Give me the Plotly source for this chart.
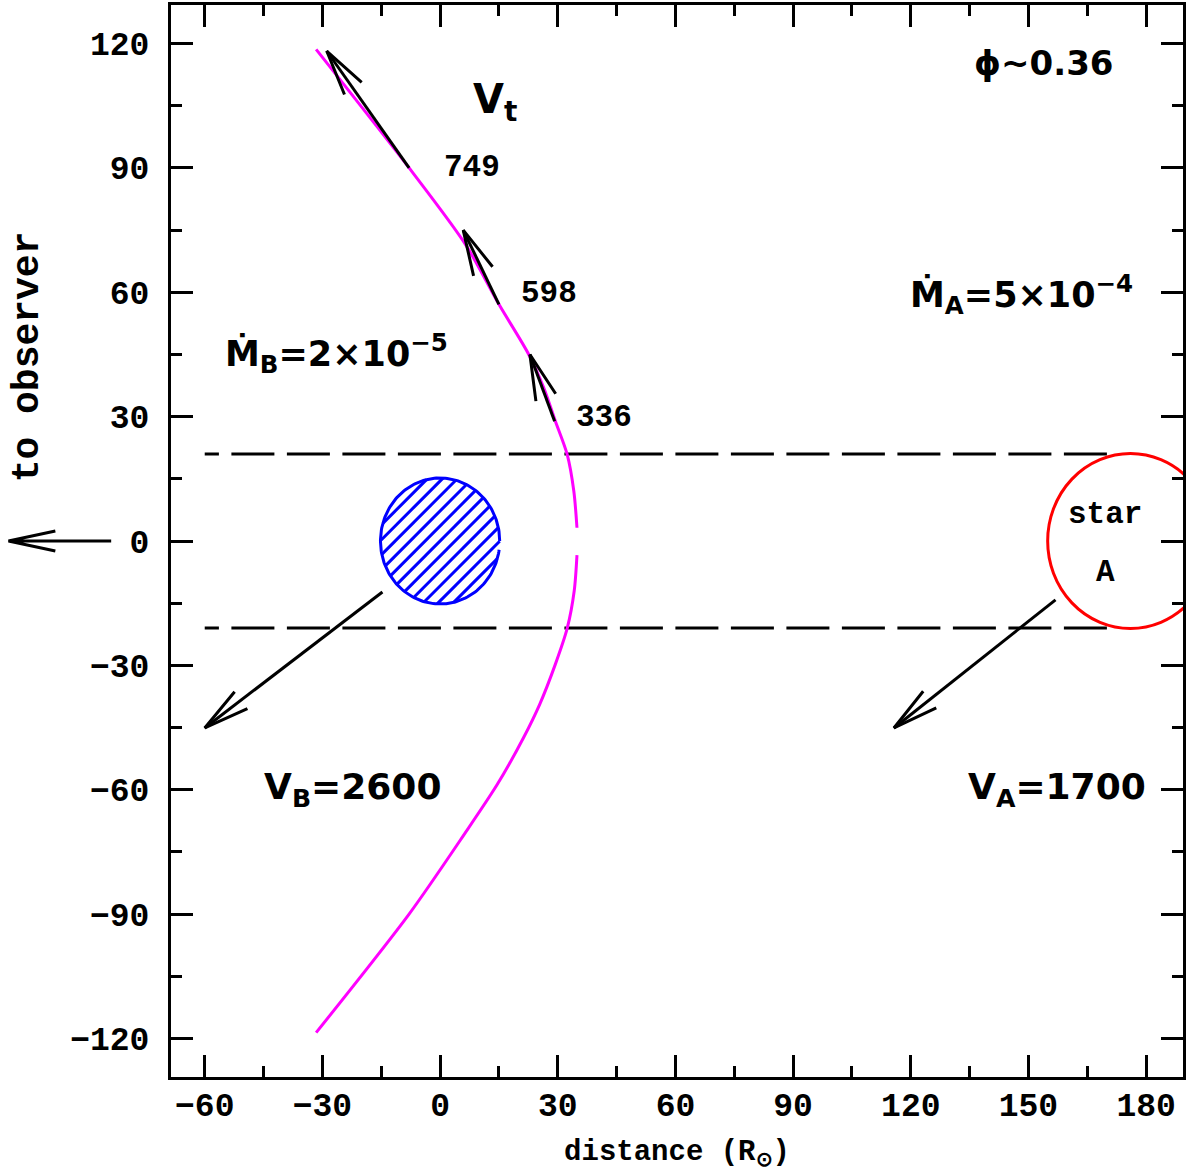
import math
import numpy as np
import plotly.graph_objects as go

# ---------------- data ----------------
x_range = [-68.6, 189.4]
y_range = [-129.3, 129.3]
x_tickvals = [-60, -30, 0, 30, 60, 90, 120, 150, 180]
x_ticktext = ["−60", "−30", "0", "30", "60", "90", "120", "150", "180"]
y_tickvals = [-120, -90, -60, -30, 0, 30, 60, 90, 120]
y_ticktext = ["−120", "−90", "−60", "−30", "0", "30", "60", "90", "120"]

# shock cone (two branches, gap near the axis)
shock_upper_x = [-31.6, -7.9, 6.5, 15.0, 22.6, 26.4, 29.4, 32.4, 34.1, 34.9]
shock_upper_y = [118.6, 90.0, 71.5, 57.1, 45.0, 37.0, 28.9, 20.9, 12.0, 3.2]
shock_lower_x = [34.9, 34.2, 32.4, 29.4, 25.4, 21.3, 14.6, 6.2, -7.9, -31.6]
shock_lower_y = [-3.4, -12.0, -21.1, -29.7, -39.4, -47.4, -58.7, -70.7, -90.0, -118.6]

# tangential velocity arrows along the shock: base -> tip
vt_base_x = [29.2, 15.0, -7.9]
vt_base_y = [28.9, 57.1, 90.0]
vt_tip_x = [22.9, 5.9, -28.9]
vt_tip_y = [45.0, 75.0, 118.2]
vt_labels = ["336", "598", "749"]
vt_label_x = [41.7, 27.7, 8.1]
vt_label_y = [29.9, 59.8, 90.0]

# wind velocity arrows: base -> tip
wind_base_x = [-14.7, 156.9]
wind_base_y = [-12.3, -14.2]
wind_tip_x = [-60.0, 115.7]
wind_tip_y = [-45.1, -45.1]

# stars
starB_x, starB_y, starB_r = 0.0, 0.0, 15.2
starA_x, starA_y, starA_r = 176.0, 0.0, 21.1

# dashed lines (drawn right to left)
dash_x = [170.0, -60.0]
dash_y_levels = [21.0, -21.0]

# ---------------- geometry helpers ----------------
W, H = 1188, 1176
ML, MR, MT, MB = 171, 2, 5, 99
PW, PH = W - ML - MR, H - MT - MB
SX = PW / (x_range[1] - x_range[0])  # px per x unit
SY = PH / (y_range[1] - y_range[0])  # px per y unit


def head(bx, by, tx, ty, L=47.0, ang=13.0):
    dxp, dyp = (tx - bx) * SX, (ty - by) * SY
    n = math.hypot(dxp, dyp)
    ux, uy = -dxp / n, -dyp / n
    pts = []
    for s in (1, -1):
        a = math.radians(s * ang)
        rx = ux * math.cos(a) - uy * math.sin(a)
        ry = ux * math.sin(a) + uy * math.cos(a)
        pts.append((tx + rx * L / SX, ty + ry * L / SY))
    return [pts[0][0], tx, pts[1][0]], [pts[0][1], ty, pts[1][1]]


fig = go.Figure()

# dashed lines
for yl in dash_y_levels:
    fig.add_trace(go.Scatter(x=dash_x, y=[yl, yl], mode="lines",
                             line=dict(color="black", width=3, dash="43px,12.5px"),
                             hoverinfo="skip", showlegend=False))

# star B: 45-degree hatching clipped to the disc (computed in pixel space)
rx, ry = starB_r * SX, starB_r * SY
hx_all, hy_all = [], []
spacing = 15.0
for k in range(-10, 11):
    c = k * spacing
    # X^2/rx^2 + (X+c)^2/ry^2 = 1
    A = 1 / rx ** 2 + 1 / ry ** 2
    B = 2 * c / ry ** 2
    C = c ** 2 / ry ** 2 - 1
    disc = B * B - 4 * A * C
    if disc <= 0:
        continue
    r = math.sqrt(disc)
    for X in ((-B - r) / (2 * A), (-B + r) / (2 * A)):
        hx_all.append(starB_x + X / SX)
        hy_all.append(starB_y + (X + c) / SY)
    hx_all.append(None)
    hy_all.append(None)
fig.add_trace(go.Scatter(x=hx_all, y=hy_all, mode="lines",
                         line=dict(width=3, color="#0000ff"),
                         hoverinfo="skip", showlegend=False))
th2 = np.linspace(0, np.radians(352), 200)
fig.add_trace(go.Scatter(x=starB_x + starB_r * np.cos(th2), y=starB_y + starB_r * np.sin(th2),
                         mode="lines", line=dict(width=3, color="#0000ff"),
                         hoverinfo="skip", showlegend=False))

# star A
fig.add_shape(type="circle", xref="x", yref="y",
              x0=starA_x - starA_r, x1=starA_x + starA_r,
              y0=starA_y - starA_r, y1=starA_y + starA_r,
              line=dict(color="#ff0000", width=3))

# shock cone
for xs, ys in ((shock_upper_x, shock_upper_y), (shock_lower_x, shock_lower_y)):
    fig.add_trace(go.Scatter(x=xs, y=ys, mode="lines",
                             line=dict(color="#ff00ff", width=3, shape="spline", smoothing=0.8),
                             hoverinfo="skip", showlegend=False))

# arrows
ax_all, ay_all = [], []
for bx, by, tx, ty in list(zip(vt_base_x, vt_base_y, vt_tip_x, vt_tip_y)) + \
        list(zip(wind_base_x, wind_base_y, wind_tip_x, wind_tip_y)):
    ax_all += [bx, tx, None]
    ay_all += [by, ty, None]
    hx, hy = head(bx, by, tx, ty)
    ax_all += hx + [None]
    ay_all += hy + [None]
fig.add_trace(go.Scatter(x=ax_all, y=ay_all, mode="lines",
                         line=dict(color="black", width=3),
                         hoverinfo="skip", showlegend=False))


# "to observer" arrow outside the frame (paper x, data y)
def px2paper(px):
    return (px - ML) / PW


obs_tip, obs_base, obs_head = px2paper(8), px2paper(111), px2paper(55)
obs_dy = 10.0 / SY
fig.add_shape(type="path", xref="paper", yref="y",
              path=f"M {obs_base},0 L {obs_tip},0 M {obs_head},{obs_dy} L {obs_tip},0 L {obs_head},{-obs_dy}",
              line=dict(color="black", width=3))

# ---------------- text ----------------
mono = dict(family="Liberation Mono", color="black", weight="bold")
sans = dict(family="DejaVu Sans", color="black", weight="bold")


def ann(x, y, text, font, size, **kw):
    fig.add_annotation(x=x, y=y, xref="x", yref="y", text=text, showarrow=False,
                       font=dict(size=size, **font), xanchor="center", yanchor="middle", **kw)


for lx, ly, lt in zip(vt_label_x, vt_label_y, vt_labels):
    ann(lx, ly, lt, mono, 31)

ann(14.0, 106.0, "V<sub>t</sub>", sans, 40)
ann(153.8, 115.3, "ϕ~0.36", sans, 34)
ann(148.2, 59.5, "Ṁ<sub>A</sub>=5×10<sup>−4</sup>", sans, 35)
ann(-26.4, 45.2, "Ṁ<sub>B</sub>=2×10<sup>−5</sup>", sans, 35)
ann(-22.4, -60.0, "V<sub>B</sub>=2600", sans, 36)
ann(157.4, -60.0, "V<sub>A</sub>=1700", sans, 36)
ann(169.6, 6.5, "star", mono, 31)
ann(169.6, -7.5, "A", mono, 31)

fig.add_annotation(x=px2paper(28), y=44.4, xref="paper", yref="y", text="to observer",
                   textangle=-90, showarrow=False, xanchor="center", yanchor="middle",
                   font=dict(size=38, **mono))

# ---------------- axes ----------------
axis_common = dict(showline=True, linecolor="black", linewidth=3, mirror="ticks",
                   ticks="inside", ticklen=22, tickwidth=3, tickcolor="black",
                   showgrid=False, zeroline=False,
                   tickfont=dict(size=33, **mono),
                   minor=dict(ticks="inside", ticklen=11, tickwidth=3, tickcolor="black",
                              dtick=15, tick0=0, showgrid=False))

fig.update_xaxes(range=x_range, tickmode="array", tickvals=x_tickvals, ticktext=x_ticktext,
                 ticklabelstandoff=-4,
                 title=dict(text="distance (R<sub>⊙</sub>)", font=dict(size=29, **mono), standoff=16),
                 **axis_common)
fig.update_yaxes(range=y_range, tickmode="array", tickvals=y_tickvals, ticktext=y_ticktext,
                 ticklabelstandoff=12, **axis_common)

fig.update_layout(width=W, height=H, margin=dict(l=ML, r=MR, t=MT, b=MB, pad=0),
                  plot_bgcolor="white", paper_bgcolor="white", showlegend=False)

fig.write_html("out.html", config={"displayModeBar": False},
               post_script="document.body.style.margin='0';")
